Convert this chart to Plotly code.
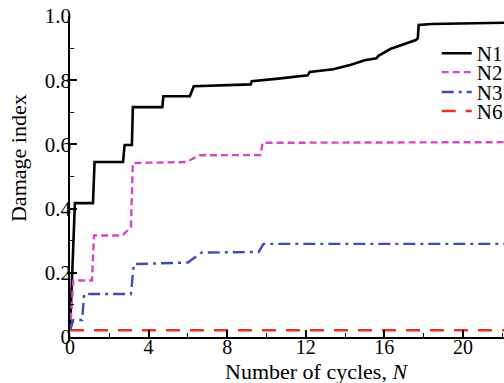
import plotly.graph_objects as go

# ---- data ----
n1_x = [0, 0.25, 1.17, 1.25, 2.7, 2.78, 3.15, 3.2, 4.7, 4.75, 6.1, 6.3, 9.2, 9.25, 10.6, 12.1, 12.2,
        13.4, 14.3, 15.0, 15.6, 15.7, 16.3, 16.9, 17.6, 17.7, 17.75, 18.4, 22.2]
n1_y = [0.02, 0.417, 0.417, 0.545, 0.545, 0.598, 0.598, 0.716, 0.716, 0.75, 0.75, 0.781, 0.787, 0.797,
        0.805, 0.815, 0.826, 0.834, 0.848, 0.862, 0.868, 0.876, 0.897, 0.91, 0.925, 0.93, 0.972, 0.975, 0.979]

n2_x = [0, 0.17, 1.12, 1.22, 2.65, 3.1, 3.2, 5.9, 6.6, 9.7, 9.8, 22.2]
n2_y = [0.02, 0.176, 0.176, 0.316, 0.316, 0.342, 0.542, 0.545, 0.566, 0.567, 0.605, 0.607]

n3_x = [0, 0.17, 0.62, 0.72, 3.1, 3.25, 6.0, 6.7, 9.6, 9.85, 22.2]
n3_y = [0.02, 0.053, 0.053, 0.134, 0.134, 0.227, 0.232, 0.263, 0.265, 0.29, 0.29]

n6_x = [0, 22.2]
n6_y = [0.021, 0.021]

series_names = ["N1", "N2", "N3", "N6"]
x_tickvals = [0, 4, 8, 12, 16, 20]
y_tickvals = [0, 0.2, 0.4, 0.6, 0.8, 1.0]
y_ticktext = ["0", "0.2", "0.4", "0.6", "0.8", "1.0"]
x_title = "Number of cycles, <i>N</i>"
y_title = "Damage index"

FONT = "Liberation Serif"

styles = [
    dict(color="#000000", width=2.6, dash="solid"),
    dict(color="#d448c2", width=2.4, dash="7px,4px"),
    dict(color="#3e4db6", width=2.4, dash="12px,5px,3px,5px"),
    dict(color="#e6322a", width=2.6, dash="14px,10px"),
]
data = [(n1_x, n1_y), (n2_x, n2_y), (n3_x, n3_y), (n6_x, n6_y)]
legend_ids = ["legend", "legend2", "legend3", "legend4"]
legend_rows = [0.883, 0.824, 0.762, 0.703]

fig = go.Figure()
for (xs, ys), name, st, lid in zip(data, series_names, styles, legend_ids):
    fig.add_trace(go.Scatter(x=xs, y=ys, mode="lines", name=name, line=st, legend=lid))

legend_common = dict(
    xanchor="left", yanchor="middle", x=0.845,
    bgcolor="rgba(0,0,0,0)", borderwidth=0,
    font=dict(family=FONT, size=21, color="black"),
    itemwidth=30, tracegroupgap=0,
)
legend_layout = {}
for lid, yy in zip(legend_ids, legend_rows):
    legend_layout[lid] = dict(legend_common, y=yy)

fig.update_layout(
    width=504, height=383,
    margin=dict(l=70, r=0, t=16, b=46, autoexpand=False),
    paper_bgcolor="white", plot_bgcolor="white",
    font=dict(family=FONT, size=20, color="black"),
    showlegend=True,
    **legend_layout,
)

fig.update_xaxes(
    range=[0, 22.09], showline=True, linecolor="black", linewidth=1.5,
    showgrid=False, zeroline=False,
    tickmode="array", tickvals=x_tickvals, ticktext=[str(v) for v in x_tickvals],
    ticks="inside", ticklen=7, tickwidth=1.5, tickcolor="black",
    minor=dict(dtick=2, tick0=0, ticks="inside", ticklen=4, tickwidth=1.2, tickcolor="black", showgrid=False),
    tickfont=dict(family=FONT, size=20, color="black"),
    ticklabelstandoff=-9,
)
fig.update_yaxes(
    range=[0, 1.0], showline=True, linecolor="black", linewidth=1.5,
    showgrid=False, zeroline=False,
    tickmode="array", tickvals=y_tickvals, ticktext=y_ticktext,
    ticks="inside", ticklen=7, tickwidth=1.5, tickcolor="black",
    minor=dict(dtick=0.1, tick0=0, ticks="inside", ticklen=4, tickwidth=1.2, tickcolor="black", showgrid=False),
    tickfont=dict(family=FONT, size=21, color="black"),
    ticklabelstandoff=-7,
)

fig.add_annotation(text=x_title, xref="paper", yref="paper", x=0.567, y=-0.109,
                   xanchor="center", yanchor="middle", showarrow=False,
                   font=dict(family=FONT, size=22, color="black"))
fig.add_annotation(text=y_title, xref="paper", yref="paper", x=-0.1198, y=0.5576,
                   xanchor="center", yanchor="middle", showarrow=False, textangle=-90,
                   font=dict(family=FONT, size=22, color="black"))

fig.write_html("out.html")
